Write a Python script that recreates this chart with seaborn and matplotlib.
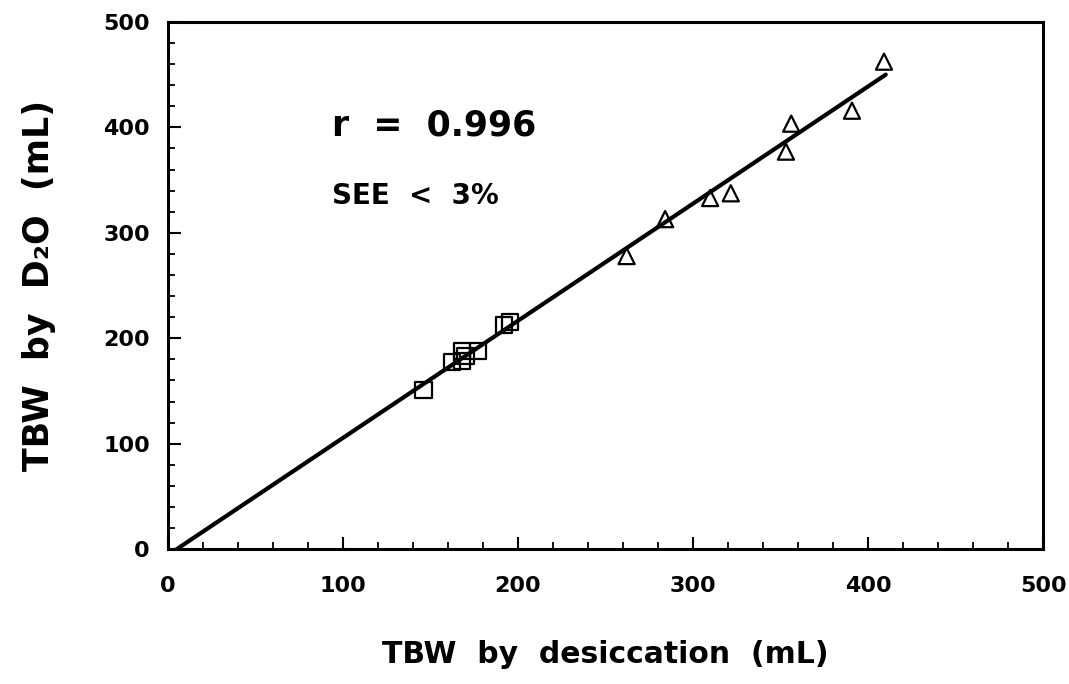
import numpy as np
import pandas as pd
import matplotlib
matplotlib.use("Agg")
import matplotlib.pyplot as plt
import seaborn as sns
from matplotlib.ticker import MultipleLocator

# Data
sq_x = [146, 162.5, 168, 168, 170, 177, 191.8, 195.4]
sq_y = [150.6, 177.7, 188, 178.4, 183, 188, 212.5, 215.7]
tri_x = [262, 284, 309.7, 321.5, 353, 356, 390.7, 409]
tri_y = [278, 313, 333, 337.5, 377, 403.5, 415.8, 462.3]
fit_x = [5, 410]
fit_y = [0, 450]

x_ticks = [0, 100, 200, 300, 400, 500]
y_ticks = [0, 100, 200, 300, 400, 500]

sns.set_theme(style="white")
plt.rcParams['font.family'] = ['DejaVu Sans']
plt.rcParams['font.weight'] = 'bold'
plt.rcParams['text.color'] = 'black'
plt.rcParams['axes.labelcolor'] = 'black'
plt.rcParams['xtick.color'] = 'black'
plt.rcParams['ytick.color'] = 'black'

fig = plt.figure(figsize=(10.69, 6.84), dpi=100)
ax = fig.add_axes([0.157, 0.197, 0.819, 0.771])

sns.lineplot(x=fit_x, y=fit_y, color='black', linewidth=3, ax=ax)
sns.scatterplot(x=sq_x, y=sq_y, marker='s', s=135, facecolors='none',
                edgecolors='black', linewidths=1.6, ax=ax, zorder=3)
sns.scatterplot(x=tri_x, y=tri_y, marker='^', s=135, facecolors='none',
                edgecolors='black', linewidths=1.6, ax=ax, zorder=3)

ax.set_xlim(0, 500)
ax.set_ylim(0, 500)
ax.set_xticks(x_ticks)
ax.set_yticks(y_ticks)
ax.xaxis.set_minor_locator(MultipleLocator(20))
ax.yaxis.set_minor_locator(MultipleLocator(20))
ax.tick_params(which='both', direction='in', top=False, right=False,
               bottom=True, left=True, color='black')
ax.tick_params(which='major', length=9, width=1.5)
ax.tick_params(which='minor', length=5, width=1.3)
ax.tick_params(axis='x', which='major', pad=19, labelsize=16,
               labelcolor='black')
ax.tick_params(axis='y', which='major', pad=13, labelsize=16,
               labelcolor='black')
for lab in ax.get_xticklabels() + ax.get_yticklabels():
    lab.set_fontweight('bold')

for sp in ax.spines.values():
    sp.set_color('black')
    sp.set_linewidth(2.2)

ax.set_xlabel('TBW  by  desiccation  (mL)', fontsize=21.5, fontweight='bold',
              labelpad=32, color='black')
ax.set_ylabel('TBW  by  D\u2082O  (mL)', fontsize=25, fontweight='bold',
              labelpad=34, color='black')

ax.text(94, 402, 'r  =  0.996', fontsize=25, fontweight='bold', va='center',
        ha='left', color='black')
ax.text(94, 335, 'SEE  <  3%', fontsize=20, fontweight='bold', va='center',
        ha='left', color='black')

fig.savefig('out.png', dpi=100, facecolor='white')
